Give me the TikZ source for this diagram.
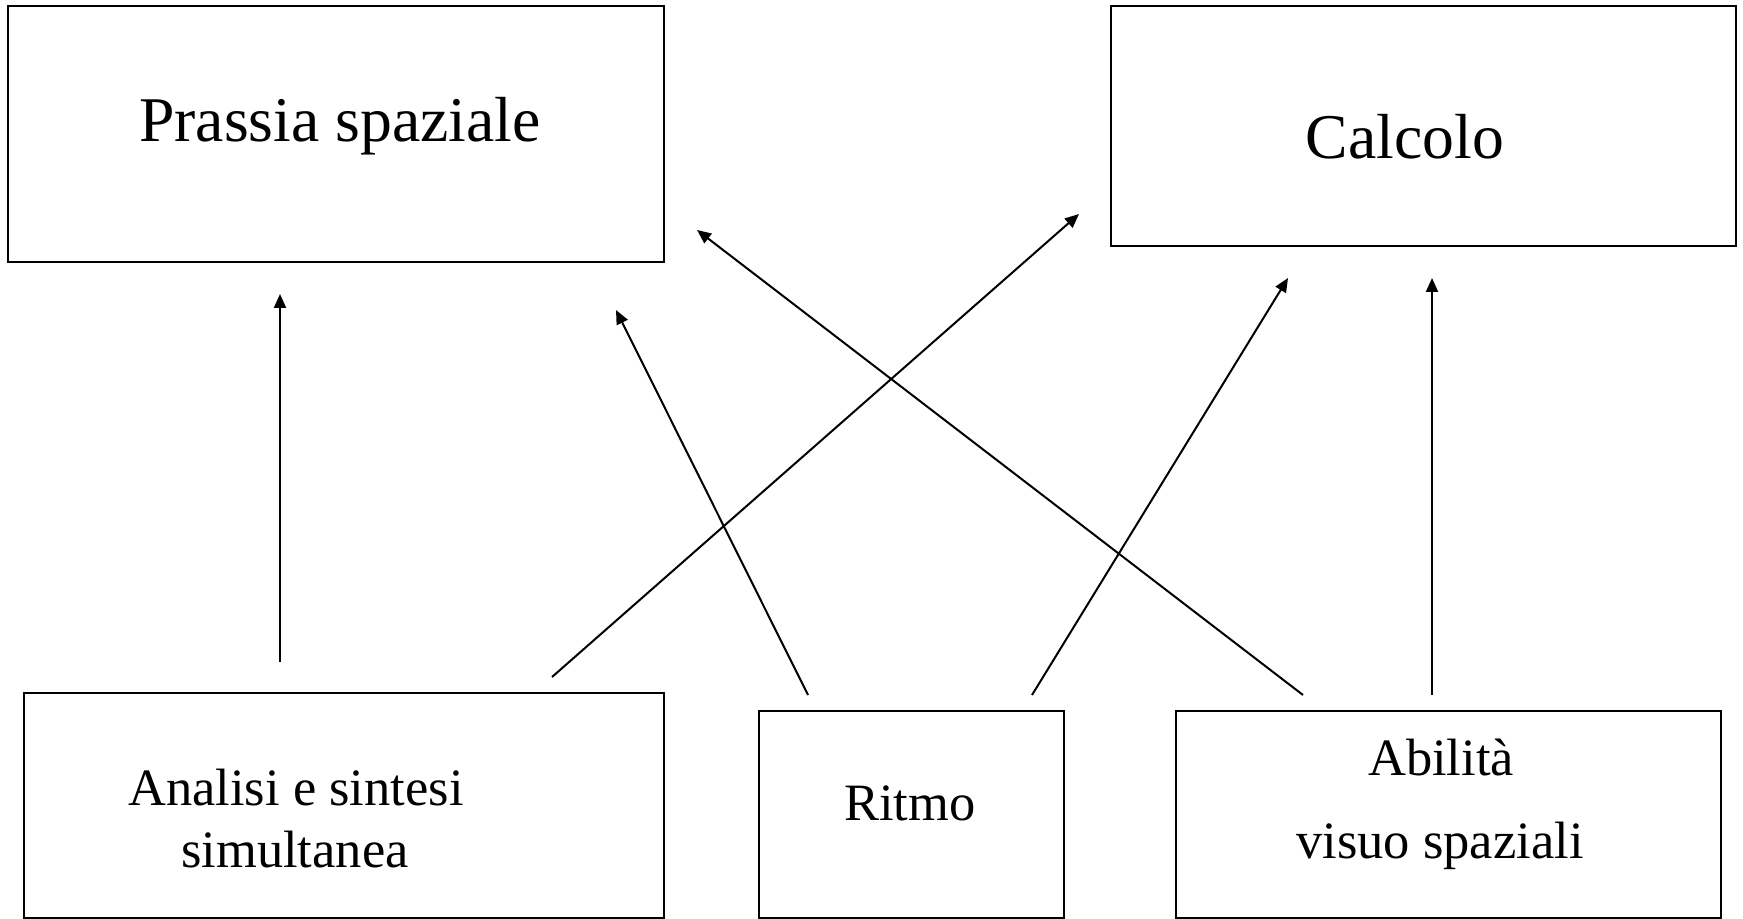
\documentclass[tikz,border=0pt]{standalone}
\usepackage{fontspec}
\setmainfont{Liberation Serif}
\usetikzlibrary{arrows.meta}

\tikzset{
	box/.style={draw=black, line width=1.3pt, rectangle, inner sep=0pt},
	link/.style={draw=black, line width=1pt, -{Triangle[length=7pt,width=6pt]}},
	bigtext/.style={anchor=base, inner sep=0.75pt, font=\fontsize{31.85}{38}\selectfont},
	smalltext/.style={anchor=base, inner sep=0.75pt, font=\fontsize{26.25}{31}\selectfont}
}

\begin{document}
\begin{tikzpicture}[x=0.5pt,y=0.5pt,yscale=-1,xscale=1]
	\useasboundingbox (0,0) rectangle (1743,919);

	%Shape: Rectangle [prassia]
	\node [box, minimum width=328pt, minimum height=128pt] (pra) at (336,134) {};
	%Shape: Rectangle [calcolo]
	\node [box, minimum width=312.5pt, minimum height=120pt] (cal) at (1423.5,126) {};
	%Shape: Rectangle [analisi]
	\node [box, minimum width=320pt, minimum height=112.5pt] (ana) at (344,805.5) {};
	%Shape: Rectangle [ritmo]
	\node [box, minimum width=152.5pt, minimum height=103.5pt] (rit) at (911.5,814.5) {};
	%Shape: Rectangle [abilita]
	\node [box, minimum width=272.5pt, minimum height=103.5pt] (abi) at (1448.5,814.5) {};

	% Text Node
	\node [bigtext] (praT) at (340,142) {Prassia spaziale};
	% Text Node
	\node [bigtext] (calT) at (1405,159) {Calcolo};
	% Text Node
	\node [smalltext] (anaT1) at (296,805) {Analisi e sintesi};
	% Text Node
	\node [smalltext] (anaT2) at (295,867) {simultanea};
	% Text Node
	\node [smalltext] (ritT) at (910,820) {Ritmo};
	% Text Node
	\node [smalltext] (abiT1) at (1441,775) {Abilità};
	% Text Node
	\node [smalltext] (abiT2) at (1440,858) {visuo spaziali};

	%Arrow ends
	\coordinate (anaUp) at (280,662);
	\coordinate (praIn1) at (280,294);
	\coordinate (ritL) at (808,695);
	\coordinate (praIn2) at (616,310);
	\coordinate (anaR) at (552,677);
	\coordinate (calIn1) at (1079,214);
	\coordinate (ritR) at (1032,695);
	\coordinate (calIn2) at (1288,278);
	\coordinate (abiL) at (1303,695);
	\coordinate (praIn3) at (697,230);
	\coordinate (abiUp) at (1432,695);
	\coordinate (calIn3) at (1432,278);

	%Straight Lines
	\draw [link] (anaUp) -- (praIn1);
	\draw [link] (ritL) -- (praIn2);
	\draw [link] (anaR) -- (calIn1);
	\draw [link] (ritR) -- (calIn2);
	\draw [link] (abiL) -- (praIn3);
	\draw [link] (abiUp) -- (calIn3);

\end{tikzpicture}
\end{document}
